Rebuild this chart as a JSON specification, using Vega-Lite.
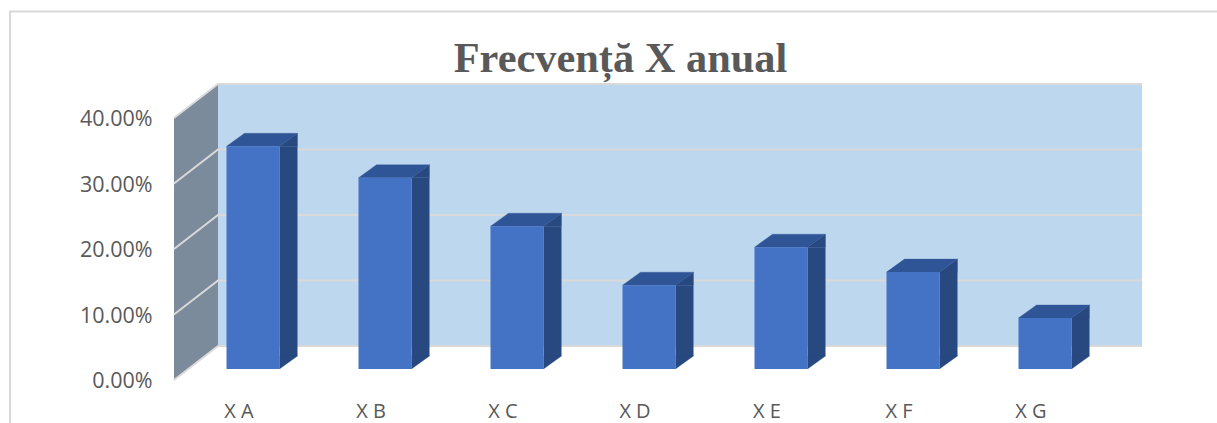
{
  "$schema": "https://vega.github.io/schema/vega-lite/v6.json",
  "width": 1217,
  "height": 423,
  "autosize": {"type": "none"},
  "padding": 0,
  "background": "white",
  "view": {"stroke": null},
  "title": {"text": "Frecvență X anual", "font": "Liberation Serif", "fontSize": 42.4, "fontWeight": "bold", "color": "#595959", "anchor": "middle", "frame": "group", "baseline": "alphabetic", "offset": -114, "dx": 12},
  "datasets": {
    "bars": [
      {"category": "X A", "share": 0.34},
      {"category": "X B", "share": 0.292},
      {"category": "X C", "share": 0.218},
      {"category": "X D", "share": 0.128},
      {"category": "X E", "share": 0.186},
      {"category": "X F", "share": 0.148},
      {"category": "X G", "share": 0.078}
    ],
    "grid": [
      {"line": 0, "slot": -0.0985, "level": 0, "step": 1},
      {"line": 0, "slot": 0.2348, "level": 0.0519, "step": 2},
      {"line": 0, "slot": 7.2348, "level": 0.0519, "step": 3},
      {"line": 1, "slot": -0.0985, "level": 0.1, "step": 1},
      {"line": 1, "slot": 0.2348, "level": 0.1519, "step": 2},
      {"line": 1, "slot": 7.2348, "level": 0.1519, "step": 3},
      {"line": 2, "slot": -0.0985, "level": 0.2, "step": 1},
      {"line": 2, "slot": 0.2348, "level": 0.2519, "step": 2},
      {"line": 2, "slot": 7.2348, "level": 0.2519, "step": 3},
      {"line": 3, "slot": -0.0985, "level": 0.3, "step": 1},
      {"line": 3, "slot": 0.2348, "level": 0.3519, "step": 2},
      {"line": 3, "slot": 7.2348, "level": 0.3519, "step": 3},
      {"line": 4, "slot": -0.0985, "level": 0.4, "step": 1},
      {"line": 4, "slot": 0.2348, "level": 0.4519, "step": 2},
      {"line": 4, "slot": 7.2348, "level": 0.4519, "step": 3}
    ]
  },
  "resolve": {"scale": {"x": "independent"}},
  "layer": [
    {
      "data": {"values": [
        {"slot": -1.341, "level": -0.0656, "step": 1},
        {"slot": -1.341, "level": 0.5626, "step": 2},
        {"slot": 7.803, "level": 0.5626, "step": 3}
      ]},
      "mark": {"type": "line", "stroke": "#d9d9d9", "strokeWidth": 2},
      "encoding": {
        "x": {"field": "slot", "type": "quantitative", "scale": {"domain": [0, 7], "range": [187, 1111], "nice": false, "zero": false}, "axis": null},
        "y": {"field": "level", "type": "quantitative", "scale": {"domain": [0, 0.4], "range": [380, 118], "nice": false, "zero": false}, "axis": {"values": [0, 0.1, 0.2, 0.3, 0.4], "format": ".2%", "title": null, "domain": false, "ticks": false, "grid": false, "offset": -152, "labelPadding": 0, "labelOffset": 1.5, "labelFont": "Open Sans", "labelFontSize": 21.5, "labelColor": "#595959"}},
        "order": {"field": "step", "type": "quantitative"}
      }
    },
    {
      "data": {"values": [
        {"slot": -0.0985, "low": 0, "high": 0.4},
        {"slot": 0.2348, "low": 0.0519, "high": 0.4519}
      ]},
      "mark": {"type": "area", "color": "#7b8b9b"},
      "encoding": {
        "x": {"field": "slot", "type": "quantitative", "scale": {"domain": [0, 7], "range": [187, 1111], "nice": false, "zero": false}, "axis": null},
        "y": {"field": "low", "type": "quantitative"},
        "y2": {"field": "high"}
      }
    },
    {
      "data": {"values": [
        {"slot": 0.2348, "low": 0.0519, "high": 0.4519},
        {"slot": 7.2348, "low": 0.0519, "high": 0.4519}
      ]},
      "mark": {"type": "area", "color": "#bdd7ee"},
      "encoding": {
        "x": {"field": "slot", "type": "quantitative", "scale": {"domain": [0, 7], "range": [187, 1111], "nice": false, "zero": false}, "axis": null},
        "y": {"field": "low", "type": "quantitative"},
        "y2": {"field": "high"}
      }
    },
    {
      "data": {"name": "grid"},
      "mark": {"type": "line", "stroke": "#d9d9d9", "strokeWidth": 2},
      "encoding": {
        "x": {"field": "slot", "type": "quantitative", "scale": {"domain": [0, 7], "range": [187, 1111], "nice": false, "zero": false}, "axis": null},
        "y": {"field": "level", "type": "quantitative"},
        "detail": {"field": "line"},
        "order": {"field": "step", "type": "quantitative"}
      }
    },
    {
      "data": {"name": "bars"},
      "mark": {"type": "bar", "color": "#284880", "size": 18, "xOffset": 35.5, "yOffset": -11, "y2Offset": -24},
      "encoding": {
        "x": {"field": "category", "type": "nominal", "sort": null, "scale": {"type": "band", "domain": ["X A", "X B", "X C", "X D", "X E", "X F", "X G"], "range": [187, 1111]}, "axis": null},
        "y": {"field": "share", "type": "quantitative"},
        "y2": {"datum": 0}
      }
    },
    {
      "data": {"name": "bars"},
      "mark": {"type": "point", "shape": "M26.5,-11 L44.5,-24 L26.5,-24 Z", "size": 4, "filled": true, "opacity": 1, "color": "#284880", "stroke": "#284880", "strokeWidth": 0.3},
      "encoding": {
        "x": {"field": "category", "type": "nominal", "sort": null, "scale": {"type": "band", "domain": ["X A", "X B", "X C", "X D", "X E", "X F", "X G"], "range": [187, 1111]}, "axis": null},
        "y": {"datum": 0, "type": "quantitative"}
      }
    },
    {
      "data": {"name": "bars"},
      "mark": {"type": "point", "shape": "M26.5,-11 L44.5,-24 L44.5,-11 Z", "size": 4, "filled": true, "opacity": 1, "color": "#284880", "stroke": "#284880", "strokeWidth": 0.3},
      "encoding": {
        "x": {"field": "category", "type": "nominal", "sort": null, "scale": {"type": "band", "domain": ["X A", "X B", "X C", "X D", "X E", "X F", "X G"], "range": [187, 1111]}, "axis": null},
        "y": {"field": "share", "type": "quantitative"}
      }
    },
    {
      "data": {"name": "bars"},
      "mark": {"type": "point", "shape": "M-26.5,-11 L-8.5,-24 L44.5,-24 L26.5,-11 Z", "size": 4, "filled": true, "opacity": 1, "color": "#2f5597", "stroke": "#2f5597", "strokeWidth": 0.3},
      "encoding": {
        "x": {"field": "category", "type": "nominal", "sort": null, "scale": {"type": "band", "domain": ["X A", "X B", "X C", "X D", "X E", "X F", "X G"], "range": [187, 1111]}, "axis": null},
        "y": {"field": "share", "type": "quantitative"}
      }
    },
    {
      "data": {"name": "bars"},
      "mark": {"type": "bar", "color": "#4472c4", "size": 53, "yOffset": -11, "y2Offset": -11},
      "encoding": {
        "x": {"field": "category", "type": "nominal", "sort": null, "scale": {"type": "band", "domain": ["X A", "X B", "X C", "X D", "X E", "X F", "X G"], "range": [187, 1111]}, "axis": {"title": null, "domain": false, "ticks": false, "grid": false, "labelAngle": 0, "offset": -22, "labelPadding": 0, "labelOffset": -14, "labelFont": "Open Sans", "labelFontSize": 20, "labelColor": "#595959"}},
        "y": {"field": "share", "type": "quantitative"},
        "y2": {"datum": 0}
      }
    }
  ]
}
